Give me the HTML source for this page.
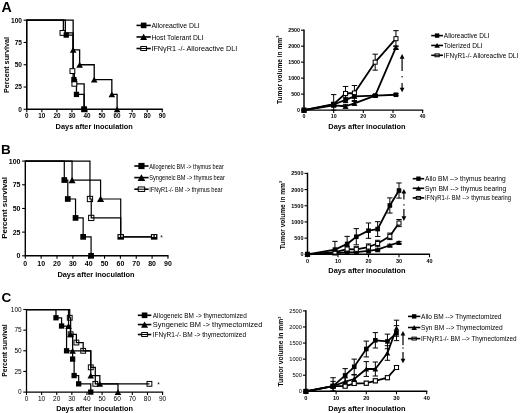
<!DOCTYPE html>
<html><head><meta charset="utf-8"><style>
html,body{margin:0;padding:0;background:#fff;}
body{width:520px;height:413px;overflow:hidden;}
svg{display:block;filter:blur(0.3px);}
text{font-family:"Liberation Sans", sans-serif;fill:#000;}
</style></head><body>
<svg width="520" height="413" viewBox="0 0 520 413">
<rect width="520" height="413" fill="#fff"/>
<text x="1.40" y="11.90" font-size="14.2" text-anchor="start" font-weight="bold" >A</text>
<text x="0.90" y="153.80" font-size="13.5" text-anchor="start" font-weight="bold" >B</text>
<text x="1.50" y="302.20" font-size="13.5" text-anchor="start" font-weight="bold" >C</text>
<path d="M26.80,19.60 L26.80,109.30 L162.85,109.30" fill="none" stroke="#000" stroke-width="1.6"/>
<line x1="23.60" y1="109.30" x2="26.80" y2="109.30" stroke="#000" stroke-width="1.1"/>
<text x="22.00" y="111.68" font-size="6.6" text-anchor="end" font-weight="bold" >0</text>
<line x1="23.60" y1="87.03" x2="26.80" y2="87.03" stroke="#000" stroke-width="1.1"/>
<text x="22.00" y="89.40" font-size="6.6" text-anchor="end" font-weight="bold" >25</text>
<line x1="23.60" y1="64.75" x2="26.80" y2="64.75" stroke="#000" stroke-width="1.1"/>
<text x="22.00" y="67.13" font-size="6.6" text-anchor="end" font-weight="bold" >50</text>
<line x1="23.60" y1="42.47" x2="26.80" y2="42.47" stroke="#000" stroke-width="1.1"/>
<text x="22.00" y="44.85" font-size="6.6" text-anchor="end" font-weight="bold" >75</text>
<line x1="23.60" y1="20.20" x2="26.80" y2="20.20" stroke="#000" stroke-width="1.1"/>
<text x="22.00" y="22.58" font-size="6.6" text-anchor="end" font-weight="bold" >100</text>
<line x1="26.80" y1="109.30" x2="26.80" y2="112.30" stroke="#000" stroke-width="1.1"/>
<text x="26.80" y="118.27" font-size="6.3" text-anchor="middle" font-weight="bold" >0</text>
<line x1="41.85" y1="109.30" x2="41.85" y2="112.30" stroke="#000" stroke-width="1.1"/>
<text x="41.85" y="118.27" font-size="6.3" text-anchor="middle" font-weight="bold" >10</text>
<line x1="56.90" y1="109.30" x2="56.90" y2="112.30" stroke="#000" stroke-width="1.1"/>
<text x="56.90" y="118.27" font-size="6.3" text-anchor="middle" font-weight="bold" >20</text>
<line x1="71.95" y1="109.30" x2="71.95" y2="112.30" stroke="#000" stroke-width="1.1"/>
<text x="71.95" y="118.27" font-size="6.3" text-anchor="middle" font-weight="bold" >30</text>
<line x1="87.00" y1="109.30" x2="87.00" y2="112.30" stroke="#000" stroke-width="1.1"/>
<text x="87.00" y="118.27" font-size="6.3" text-anchor="middle" font-weight="bold" >40</text>
<line x1="102.05" y1="109.30" x2="102.05" y2="112.30" stroke="#000" stroke-width="1.1"/>
<text x="102.05" y="118.27" font-size="6.3" text-anchor="middle" font-weight="bold" >50</text>
<line x1="117.10" y1="109.30" x2="117.10" y2="112.30" stroke="#000" stroke-width="1.1"/>
<text x="117.10" y="118.27" font-size="6.3" text-anchor="middle" font-weight="bold" >60</text>
<line x1="132.15" y1="109.30" x2="132.15" y2="112.30" stroke="#000" stroke-width="1.1"/>
<text x="132.15" y="118.27" font-size="6.3" text-anchor="middle" font-weight="bold" >70</text>
<line x1="147.20" y1="109.30" x2="147.20" y2="112.30" stroke="#000" stroke-width="1.1"/>
<text x="147.20" y="118.27" font-size="6.3" text-anchor="middle" font-weight="bold" >80</text>
<line x1="162.25" y1="109.30" x2="162.25" y2="112.30" stroke="#000" stroke-width="1.1"/>
<text x="162.25" y="118.27" font-size="6.3" text-anchor="middle" font-weight="bold" >90</text>
<text x="55.60" y="128.80" font-size="7.4" text-anchor="start" font-weight="bold" >Days after inoculation</text>
<text x="0" y="0" font-size="7.25" font-weight="bold" text-anchor="middle" transform="translate(8.60,65.00) rotate(-90)">Percent survival</text>
<path d="M26.80,20.20 L63.37,20.20 L63.37,32.94 L73.15,32.94 L73.15,71.08 L74.36,71.08 L74.36,83.82 L84.14,83.82 L84.14,109.30" fill="none" stroke="#000" stroke-width="1.3" stroke-linejoin="miter"/>
<path d="M26.80,20.20 L73.15,20.20 L73.15,49.87 L79.63,49.87 L79.63,64.75 L94.22,64.75 L94.22,79.63 L111.83,79.63 L111.83,94.42 L117.10,94.42 L117.10,109.30" fill="none" stroke="#000" stroke-width="1.3" stroke-linejoin="miter"/>
<path d="M26.80,20.20 L65.33,20.20 L65.33,35.08 L73.15,35.08 L73.15,79.63 L76.47,79.63 L76.47,94.42 L84.14,94.42 L84.14,109.30" fill="none" stroke="#000" stroke-width="1.3" stroke-linejoin="miter"/>
<rect x="60.05" y="30.53" width="4.83" height="4.83" fill="#fff" stroke="#000" stroke-width="1.0"/>
<rect x="69.99" y="68.66" width="4.83" height="4.83" fill="#fff" stroke="#000" stroke-width="1.0"/>
<rect x="71.94" y="81.40" width="4.83" height="4.83" fill="#fff" stroke="#000" stroke-width="1.0"/>
<rect x="81.73" y="106.88" width="4.83" height="4.83" fill="#fff" stroke="#000" stroke-width="1.0"/>
<path d="M69.84,52.79 L73.15,46.96 L76.47,52.79 Z" fill="#000"/>
<path d="M76.31,67.67 L79.63,61.84 L82.94,67.67 Z" fill="#000"/>
<path d="M90.91,82.54 L94.22,76.71 L97.54,82.54 Z" fill="#000"/>
<path d="M108.52,97.34 L111.83,91.51 L115.14,97.34 Z" fill="#000"/>
<path d="M113.79,112.22 L117.10,106.38 L120.41,112.22 Z" fill="#000"/>
<rect x="63.58" y="32.43" width="5.30" height="5.30" fill="#000"/>
<rect x="71.26" y="76.98" width="5.30" height="5.30" fill="#000"/>
<rect x="73.81" y="91.77" width="5.30" height="5.30" fill="#000"/>
<rect x="81.49" y="106.65" width="5.30" height="5.30" fill="#000"/>
<line x1="136.50" y1="25.40" x2="150.80" y2="25.40" stroke="#000" stroke-width="1.6"/>
<rect x="140.85" y="22.60" width="5.60" height="5.60" fill="#000"/>
<text x="151.40" y="28.06" font-size="7.4" text-anchor="start" font-weight="normal" textLength="48.3" lengthAdjust="spacingAndGlyphs">Alloreactive DLI</text>
<line x1="136.50" y1="36.95" x2="150.80" y2="36.95" stroke="#000" stroke-width="1.6"/>
<path d="M140.15,40.03 L143.65,33.87 L147.15,40.03 Z" fill="#000"/>
<text x="151.40" y="39.61" font-size="7.4" text-anchor="start" font-weight="normal" textLength="52.0" lengthAdjust="spacingAndGlyphs">Host Tolerant DLI</text>
<line x1="136.50" y1="48.50" x2="150.80" y2="48.50" stroke="#000" stroke-width="1.6"/>
<rect x="140.79" y="46.54" width="5.72" height="3.93" fill="#fff" stroke="#000" stroke-width="1.0"/><line x1="140.29" y1="48.50" x2="147.01" y2="48.50" stroke="#000" stroke-width="1"/>
<text x="151.40" y="51.16" font-size="7.4" text-anchor="start" font-weight="normal" textLength="85.9" lengthAdjust="spacingAndGlyphs">IFN&#947;R1 -/- Alloreactive DLI</text>
<path d="M25.30,160.50 L25.30,255.80 L168.55,255.80" fill="none" stroke="#000" stroke-width="1.4"/>
<line x1="22.10" y1="255.80" x2="25.30" y2="255.80" stroke="#000" stroke-width="1.1"/>
<text x="20.50" y="258.32" font-size="7.0" text-anchor="end" font-weight="bold" >0</text>
<line x1="22.10" y1="232.12" x2="25.30" y2="232.12" stroke="#000" stroke-width="1.1"/>
<text x="20.50" y="234.65" font-size="7.0" text-anchor="end" font-weight="bold" >25</text>
<line x1="22.10" y1="208.45" x2="25.30" y2="208.45" stroke="#000" stroke-width="1.1"/>
<text x="20.50" y="210.97" font-size="7.0" text-anchor="end" font-weight="bold" >50</text>
<line x1="22.10" y1="184.78" x2="25.30" y2="184.78" stroke="#000" stroke-width="1.1"/>
<text x="20.50" y="187.30" font-size="7.0" text-anchor="end" font-weight="bold" >75</text>
<line x1="22.10" y1="161.10" x2="25.30" y2="161.10" stroke="#000" stroke-width="1.1"/>
<text x="20.50" y="163.62" font-size="7.0" text-anchor="end" font-weight="bold" >100</text>
<line x1="25.30" y1="255.80" x2="25.30" y2="258.80" stroke="#000" stroke-width="1.1"/>
<text x="25.30" y="265.52" font-size="7.0" text-anchor="middle" font-weight="bold" >0</text>
<line x1="41.15" y1="255.80" x2="41.15" y2="258.80" stroke="#000" stroke-width="1.1"/>
<text x="41.15" y="265.52" font-size="7.0" text-anchor="middle" font-weight="bold" >10</text>
<line x1="57.00" y1="255.80" x2="57.00" y2="258.80" stroke="#000" stroke-width="1.1"/>
<text x="57.00" y="265.52" font-size="7.0" text-anchor="middle" font-weight="bold" >20</text>
<line x1="72.85" y1="255.80" x2="72.85" y2="258.80" stroke="#000" stroke-width="1.1"/>
<text x="72.85" y="265.52" font-size="7.0" text-anchor="middle" font-weight="bold" >30</text>
<line x1="88.70" y1="255.80" x2="88.70" y2="258.80" stroke="#000" stroke-width="1.1"/>
<text x="88.70" y="265.52" font-size="7.0" text-anchor="middle" font-weight="bold" >40</text>
<line x1="104.55" y1="255.80" x2="104.55" y2="258.80" stroke="#000" stroke-width="1.1"/>
<text x="104.55" y="265.52" font-size="7.0" text-anchor="middle" font-weight="bold" >50</text>
<line x1="120.40" y1="255.80" x2="120.40" y2="258.80" stroke="#000" stroke-width="1.1"/>
<text x="120.40" y="265.52" font-size="7.0" text-anchor="middle" font-weight="bold" >60</text>
<line x1="136.25" y1="255.80" x2="136.25" y2="258.80" stroke="#000" stroke-width="1.1"/>
<text x="136.25" y="265.52" font-size="7.0" text-anchor="middle" font-weight="bold" >70</text>
<line x1="152.10" y1="255.80" x2="152.10" y2="258.80" stroke="#000" stroke-width="1.1"/>
<text x="152.10" y="265.52" font-size="7.0" text-anchor="middle" font-weight="bold" >80</text>
<line x1="167.95" y1="255.80" x2="167.95" y2="258.80" stroke="#000" stroke-width="1.1"/>
<text x="167.95" y="265.52" font-size="7.0" text-anchor="middle" font-weight="bold" >90</text>
<text x="57.40" y="276.50" font-size="7.4" text-anchor="start" font-weight="bold" >Days after inoculation</text>
<text x="0" y="0" font-size="8.0" font-weight="bold" text-anchor="middle" transform="translate(6.90,207.90) rotate(-90)">Percent survival</text>
<path d="M25.30,161.10 L72.06,161.10 L72.06,180.04 L100.59,180.04 L100.59,198.98 L120.72,198.98 L120.72,236.86 L154.16,236.86 L154.16,236.86" fill="none" stroke="#000" stroke-width="1.2" stroke-linejoin="miter"/>
<path d="M25.30,161.10 L89.97,161.10 L89.97,198.98 L91.24,198.98 L91.24,217.92 L120.72,217.92 L120.72,236.86 L154.16,236.86 L154.16,236.86" fill="none" stroke="#000" stroke-width="1.2" stroke-linejoin="miter"/>
<path d="M25.30,161.10 L64.29,161.10 L64.29,180.04 L67.78,180.04 L67.78,198.98 L75.54,198.98 L75.54,217.92 L83.15,217.92 L83.15,236.86 L91.08,236.86 L91.08,255.80" fill="none" stroke="#000" stroke-width="1.2" stroke-linejoin="miter"/>
<path d="M68.50,183.17 L72.06,176.91 L75.62,183.17 Z" fill="#000"/>
<path d="M97.02,202.12 L100.59,195.85 L104.15,202.12 Z" fill="#000"/>


<rect x="87.33" y="196.35" width="5.27" height="5.27" fill="none" stroke="#000" stroke-width="1.0"/>
<rect x="88.60" y="215.29" width="5.27" height="5.27" fill="none" stroke="#000" stroke-width="1.0"/>
<rect x="117.44" y="234.07" width="6.55" height="5.59" fill="#000"/><rect x="118.64" y="235.07" width="1.3" height="1.9" fill="#fff"/><rect x="121.32" y="235.07" width="1.3" height="1.9" fill="#fff"/>
<rect x="150.88" y="234.07" width="6.55" height="5.59" fill="#000"/><rect x="152.08" y="235.07" width="1.3" height="1.9" fill="#fff"/><rect x="154.76" y="235.07" width="1.3" height="1.9" fill="#fff"/>
<rect x="61.44" y="177.19" width="5.70" height="5.70" fill="#000"/>
<rect x="64.93" y="196.13" width="5.70" height="5.70" fill="#000"/>
<rect x="72.69" y="215.07" width="5.70" height="5.70" fill="#000"/>
<rect x="80.30" y="234.01" width="5.70" height="5.70" fill="#000"/>
<rect x="88.23" y="252.95" width="5.70" height="5.70" fill="#000"/>
<text x="161.50" y="239.50" font-size="6.5" text-anchor="middle" font-weight="normal" >*</text>
<line x1="134.30" y1="166.00" x2="148.60" y2="166.00" stroke="#000" stroke-width="1.6"/>
<rect x="138.35" y="162.90" width="6.20" height="6.20" fill="#000"/>
<text x="149.20" y="168.63" font-size="7.3" text-anchor="start" font-weight="normal" textLength="74.6" lengthAdjust="spacingAndGlyphs">Allogeneic BM -&gt; thymus bear</text>
<line x1="134.30" y1="177.60" x2="148.60" y2="177.60" stroke="#000" stroke-width="1.6"/>
<path d="M137.58,181.01 L141.45,174.19 L145.33,181.01 Z" fill="#000"/>
<text x="149.20" y="180.23" font-size="7.3" text-anchor="start" font-weight="normal" textLength="75.7" lengthAdjust="spacingAndGlyphs">Syngeneic BM -&gt; thymus bear</text>
<line x1="134.30" y1="189.20" x2="148.60" y2="189.20" stroke="#000" stroke-width="1.6"/>
<rect x="138.23" y="186.97" width="6.44" height="4.46" fill="#fff" stroke="#000" stroke-width="1.0"/><line x1="137.73" y1="189.20" x2="145.17" y2="189.20" stroke="#000" stroke-width="1"/>
<text x="149.20" y="191.83" font-size="7.3" text-anchor="start" font-weight="normal" textLength="73.4" lengthAdjust="spacingAndGlyphs">IFN&#947;R1-/- BM -&gt; thymus bear</text>
<path d="M26.50,308.90 L26.50,392.10 L163.18,392.10" fill="none" stroke="#000" stroke-width="1.3"/>
<line x1="23.30" y1="392.10" x2="26.50" y2="392.10" stroke="#000" stroke-width="1.1"/>
<text x="21.70" y="394.44" font-size="6.5" text-anchor="end" font-weight="normal" >0</text>
<line x1="23.30" y1="371.45" x2="26.50" y2="371.45" stroke="#000" stroke-width="1.1"/>
<text x="21.70" y="373.79" font-size="6.5" text-anchor="end" font-weight="normal" >25</text>
<line x1="23.30" y1="350.80" x2="26.50" y2="350.80" stroke="#000" stroke-width="1.1"/>
<text x="21.70" y="353.14" font-size="6.5" text-anchor="end" font-weight="normal" >50</text>
<line x1="23.30" y1="330.15" x2="26.50" y2="330.15" stroke="#000" stroke-width="1.1"/>
<text x="21.70" y="332.49" font-size="6.5" text-anchor="end" font-weight="normal" >75</text>
<line x1="23.30" y1="309.50" x2="26.50" y2="309.50" stroke="#000" stroke-width="1.1"/>
<text x="21.70" y="311.84" font-size="6.5" text-anchor="end" font-weight="normal" >100</text>
<line x1="26.50" y1="392.10" x2="26.50" y2="395.10" stroke="#000" stroke-width="1.1"/>
<text x="26.50" y="400.54" font-size="6.5" text-anchor="middle" font-weight="normal" >0</text>
<line x1="41.62" y1="392.10" x2="41.62" y2="395.10" stroke="#000" stroke-width="1.1"/>
<text x="41.62" y="400.54" font-size="6.5" text-anchor="middle" font-weight="normal" >10</text>
<line x1="56.74" y1="392.10" x2="56.74" y2="395.10" stroke="#000" stroke-width="1.1"/>
<text x="56.74" y="400.54" font-size="6.5" text-anchor="middle" font-weight="normal" >20</text>
<line x1="71.86" y1="392.10" x2="71.86" y2="395.10" stroke="#000" stroke-width="1.1"/>
<text x="71.86" y="400.54" font-size="6.5" text-anchor="middle" font-weight="normal" >30</text>
<line x1="86.98" y1="392.10" x2="86.98" y2="395.10" stroke="#000" stroke-width="1.1"/>
<text x="86.98" y="400.54" font-size="6.5" text-anchor="middle" font-weight="normal" >40</text>
<line x1="102.10" y1="392.10" x2="102.10" y2="395.10" stroke="#000" stroke-width="1.1"/>
<text x="102.10" y="400.54" font-size="6.5" text-anchor="middle" font-weight="normal" >50</text>
<line x1="117.22" y1="392.10" x2="117.22" y2="395.10" stroke="#000" stroke-width="1.1"/>
<text x="117.22" y="400.54" font-size="6.5" text-anchor="middle" font-weight="normal" >60</text>
<line x1="132.34" y1="392.10" x2="132.34" y2="395.10" stroke="#000" stroke-width="1.1"/>
<text x="132.34" y="400.54" font-size="6.5" text-anchor="middle" font-weight="normal" >70</text>
<line x1="147.46" y1="392.10" x2="147.46" y2="395.10" stroke="#000" stroke-width="1.1"/>
<text x="147.46" y="400.54" font-size="6.5" text-anchor="middle" font-weight="normal" >80</text>
<line x1="162.58" y1="392.10" x2="162.58" y2="395.10" stroke="#000" stroke-width="1.1"/>
<text x="162.58" y="400.54" font-size="6.5" text-anchor="middle" font-weight="normal" >90</text>
<text x="56.20" y="410.60" font-size="7.35" text-anchor="start" font-weight="bold" >Days after inoculation</text>
<text x="0" y="0" font-size="6.8" font-weight="bold" text-anchor="middle" transform="translate(7.30,350.60) rotate(-90)">Percent survival</text>
<path d="M26.50,309.50 L69.74,309.50 L69.74,317.76 L70.65,317.76 L70.65,334.28 L76.40,334.28 L76.40,342.54 L83.20,342.54 L83.20,350.80 L90.76,350.80 L90.76,367.32 L95.30,367.32 L95.30,383.84 L149.43,383.84 L149.43,383.84" fill="none" stroke="#000" stroke-width="1.25" stroke-linejoin="miter"/>
<path d="M26.50,309.50 L68.53,309.50 L68.53,326.02 L70.35,326.02 L70.35,334.28 L72.62,334.28 L72.62,350.80 L90.76,350.80 L90.76,375.58 L99.83,375.58 L99.83,383.84 L117.98,383.84 L117.98,392.10" fill="none" stroke="#000" stroke-width="1.25" stroke-linejoin="miter"/>
<path d="M26.50,309.50 L55.98,309.50 L55.98,317.76 L61.58,317.76 L61.58,326.02 L66.57,326.02 L66.57,350.80 L72.62,350.80 L72.62,359.06 L74.13,359.06 L74.13,375.58 L78.66,375.58 L78.66,383.84 L90.76,383.84 L90.76,392.10" fill="none" stroke="#000" stroke-width="1.25" stroke-linejoin="miter"/>
<rect x="67.33" y="315.34" width="4.83" height="4.83" fill="none" stroke="#000" stroke-width="1.0"/>
<rect x="68.24" y="331.86" width="4.83" height="4.83" fill="none" stroke="#000" stroke-width="1.0"/>
<rect x="73.98" y="340.12" width="4.83" height="4.83" fill="none" stroke="#000" stroke-width="1.0"/>
<rect x="80.78" y="348.38" width="4.83" height="4.83" fill="none" stroke="#000" stroke-width="1.0"/>
<rect x="88.34" y="364.90" width="4.83" height="4.83" fill="none" stroke="#000" stroke-width="1.0"/>
<rect x="92.88" y="381.43" width="4.83" height="4.83" fill="none" stroke="#000" stroke-width="1.0"/>
<rect x="147.01" y="381.43" width="4.83" height="4.83" fill="none" stroke="#000" stroke-width="1.0"/>
<path d="M65.22,328.94 L68.53,323.10 L71.85,328.94 Z" fill="#000"/>
<path d="M67.04,337.19 L70.35,331.36 L73.66,337.19 Z" fill="#000"/>
<path d="M69.30,353.72 L72.62,347.88 L75.93,353.72 Z" fill="#000"/>
<path d="M87.45,378.50 L90.76,372.67 L94.07,378.50 Z" fill="#000"/>
<path d="M96.52,386.76 L99.83,380.93 L103.14,386.76 Z" fill="#000"/>
<path d="M114.66,395.02 L117.98,389.19 L121.29,395.02 Z" fill="#000"/>
<rect x="53.33" y="315.11" width="5.30" height="5.30" fill="#000"/>
<rect x="58.93" y="323.37" width="5.30" height="5.30" fill="#000"/>
<rect x="63.92" y="348.15" width="5.30" height="5.30" fill="#000"/>
<rect x="69.97" y="356.41" width="5.30" height="5.30" fill="#000"/>
<rect x="71.48" y="372.93" width="5.30" height="5.30" fill="#000"/>
<rect x="76.01" y="381.19" width="5.30" height="5.30" fill="#000"/>
<rect x="88.11" y="389.45" width="5.30" height="5.30" fill="#000"/>
<text x="158.50" y="387.00" font-size="6.5" text-anchor="middle" font-weight="normal" >*</text>
<line x1="137.80" y1="315.30" x2="151.30" y2="315.30" stroke="#000" stroke-width="1.6"/>
<rect x="141.75" y="312.50" width="5.60" height="5.60" fill="#000"/>
<text x="152.80" y="317.71" font-size="6.7" text-anchor="start" font-weight="normal" textLength="94.0" lengthAdjust="spacingAndGlyphs">Allogeneic BM -&gt; thymectomized</text>
<line x1="137.80" y1="324.55" x2="151.30" y2="324.55" stroke="#000" stroke-width="1.6"/>
<path d="M141.05,327.63 L144.55,321.47 L148.05,327.63 Z" fill="#000"/>
<text x="152.80" y="326.96" font-size="6.7" text-anchor="start" font-weight="normal" textLength="109.6" lengthAdjust="spacingAndGlyphs">Syngeneic BM -&gt; thymectomized</text>
<line x1="137.80" y1="334.50" x2="151.30" y2="334.50" stroke="#000" stroke-width="1.6"/>
<rect x="141.69" y="332.54" width="5.72" height="3.93" fill="#fff" stroke="#000" stroke-width="1.0"/><line x1="141.19" y1="334.50" x2="147.91" y2="334.50" stroke="#000" stroke-width="1"/>
<text x="152.80" y="336.91" font-size="6.7" text-anchor="start" font-weight="normal" textLength="93.3" lengthAdjust="spacingAndGlyphs">IFN&#947;R1-/- BM -&gt; thymectomized</text>
<path d="M304.00,29.60 L304.00,110.10 L423.24,110.10" fill="none" stroke="#000" stroke-width="1.45"/>
<line x1="301.00" y1="110.10" x2="304.00" y2="110.10" stroke="#000" stroke-width="1.1"/>
<text x="300.00" y="112.01" font-size="5.3" text-anchor="end" font-weight="bold" >0</text>
<line x1="301.00" y1="94.12" x2="304.00" y2="94.12" stroke="#000" stroke-width="1.1"/>
<text x="300.00" y="96.03" font-size="5.3" text-anchor="end" font-weight="bold" >500</text>
<line x1="301.00" y1="78.14" x2="304.00" y2="78.14" stroke="#000" stroke-width="1.1"/>
<text x="300.00" y="80.05" font-size="5.3" text-anchor="end" font-weight="bold" >1000</text>
<line x1="301.00" y1="62.16" x2="304.00" y2="62.16" stroke="#000" stroke-width="1.1"/>
<text x="300.00" y="64.07" font-size="5.3" text-anchor="end" font-weight="bold" >1500</text>
<line x1="301.00" y1="46.18" x2="304.00" y2="46.18" stroke="#000" stroke-width="1.1"/>
<text x="300.00" y="48.09" font-size="5.3" text-anchor="end" font-weight="bold" >2000</text>
<line x1="301.00" y1="30.20" x2="304.00" y2="30.20" stroke="#000" stroke-width="1.1"/>
<text x="300.00" y="32.11" font-size="5.3" text-anchor="end" font-weight="bold" >2500</text>
<line x1="304.00" y1="110.10" x2="304.00" y2="113.10" stroke="#000" stroke-width="1.1"/>
<text x="304.00" y="118.21" font-size="5.3" text-anchor="middle" font-weight="bold" >0</text>
<line x1="333.66" y1="110.10" x2="333.66" y2="113.10" stroke="#000" stroke-width="1.1"/>
<text x="333.66" y="118.21" font-size="5.3" text-anchor="middle" font-weight="bold" >10</text>
<line x1="363.32" y1="110.10" x2="363.32" y2="113.10" stroke="#000" stroke-width="1.1"/>
<text x="363.32" y="118.21" font-size="5.3" text-anchor="middle" font-weight="bold" >20</text>
<line x1="392.98" y1="110.10" x2="392.98" y2="113.10" stroke="#000" stroke-width="1.1"/>
<text x="392.98" y="118.21" font-size="5.3" text-anchor="middle" font-weight="bold" >30</text>
<line x1="422.64" y1="110.10" x2="422.64" y2="113.10" stroke="#000" stroke-width="1.1"/>
<text x="422.64" y="118.21" font-size="5.3" text-anchor="middle" font-weight="bold" >40</text>
<text x="328.30" y="129.00" font-size="7.4" text-anchor="start" font-weight="bold" >Days after inoculation</text>
<text x="0" y="0" font-size="6.6" font-weight="bold" text-anchor="middle" transform="translate(282.00,69.80) rotate(-90)">Tumor volume in mm<tspan font-size="3.96" dy="-2.64">3</tspan></text>
<path d="M333.66,94.60 L333.66,110.10 M330.96,94.60 L336.36,94.60 M330.96,110.10 L336.36,110.10" fill="none" stroke="#000" stroke-width="1.0"/>
<path d="M345.52,86.45 L345.52,100.51 M342.82,86.45 L348.22,86.45 M342.82,100.51 L348.22,100.51" fill="none" stroke="#000" stroke-width="1.0"/>
<path d="M354.42,85.49 L354.42,100.51 M351.72,85.49 L357.12,85.49 M351.72,100.51 L357.12,100.51" fill="none" stroke="#000" stroke-width="1.0"/>
<path d="M375.18,54.17 L375.18,70.15 M372.48,54.17 L377.88,54.17 M372.48,70.15 L377.88,70.15" fill="none" stroke="#000" stroke-width="1.0"/>
<path d="M395.95,30.68 L395.95,46.66 M393.25,30.68 L398.65,30.68 M393.25,46.66 L398.65,46.66" fill="none" stroke="#000" stroke-width="1.0"/>
<path d="M333.66,104.03 L333.66,106.58 M330.96,104.03 L336.36,104.03 M330.96,106.58 L336.36,106.58" fill="none" stroke="#000" stroke-width="1.0"/>
<path d="M345.52,104.35 L345.52,108.18 M342.82,104.35 L348.22,104.35 M342.82,108.18 L348.22,108.18" fill="none" stroke="#000" stroke-width="1.0"/>
<path d="M354.42,101.41 L354.42,105.24 M351.72,101.41 L357.12,101.41 M351.72,105.24 L357.12,105.24" fill="none" stroke="#000" stroke-width="1.0"/>
<path d="M375.18,94.60 L375.18,96.52 M372.48,94.60 L377.88,94.60 M372.48,96.52 L377.88,96.52" fill="none" stroke="#000" stroke-width="1.0"/>
<path d="M395.95,45.86 L395.95,49.06 M393.25,45.86 L398.65,45.86 M393.25,49.06 L398.65,49.06" fill="none" stroke="#000" stroke-width="1.0"/>
<path d="M333.66,102.59 L333.66,106.42 M330.96,102.59 L336.36,102.59 M330.96,106.42 L336.36,106.42" fill="none" stroke="#000" stroke-width="1.0"/>
<path d="M345.52,97.32 L345.52,102.43 M342.82,97.32 L348.22,97.32 M342.82,102.43 L348.22,102.43" fill="none" stroke="#000" stroke-width="1.0"/>
<path d="M354.42,94.44 L354.42,98.27 M351.72,94.44 L357.12,94.44 M351.72,98.27 L357.12,98.27" fill="none" stroke="#000" stroke-width="1.0"/>
<path d="M375.18,94.60 L375.18,96.52 M372.48,94.60 L377.88,94.60 M372.48,96.52 L377.88,96.52" fill="none" stroke="#000" stroke-width="1.0"/>
<path d="M395.95,93.80 L395.95,95.72 M393.25,93.80 L398.65,93.80 M393.25,95.72 L398.65,95.72" fill="none" stroke="#000" stroke-width="1.0"/>
<path d="M304.00,110.10 L333.66,104.19 L345.52,93.48 L354.42,93.00 L375.18,62.16 L395.95,38.67" fill="none" stroke="#000" stroke-width="1.8" stroke-linejoin="round"/>
<path d="M304.00,110.10 L333.66,105.31 L345.52,106.26 L354.42,103.32 L375.18,95.56 L395.95,47.46" fill="none" stroke="#000" stroke-width="1.8" stroke-linejoin="round"/>
<path d="M304.00,110.10 L333.66,104.51 L345.52,99.87 L354.42,96.36 L375.18,95.56 L395.95,94.76" fill="none" stroke="#000" stroke-width="1.8" stroke-linejoin="round"/>
<rect x="301.97" y="108.07" width="4.06" height="4.06" fill="#fff" stroke="#000" stroke-width="1.0"/>
<rect x="331.63" y="102.16" width="4.06" height="4.06" fill="#fff" stroke="#000" stroke-width="1.0"/>
<rect x="343.49" y="91.45" width="4.06" height="4.06" fill="#fff" stroke="#000" stroke-width="1.0"/>
<rect x="352.39" y="90.97" width="4.06" height="4.06" fill="#fff" stroke="#000" stroke-width="1.0"/>
<rect x="373.15" y="60.13" width="4.06" height="4.06" fill="#fff" stroke="#000" stroke-width="1.0"/>
<rect x="393.92" y="36.64" width="4.06" height="4.06" fill="#fff" stroke="#000" stroke-width="1.0"/>
<path d="M301.12,112.63 L304.00,107.57 L306.88,112.63 Z" fill="#000"/>
<path d="M330.79,107.84 L333.66,102.78 L336.54,107.84 Z" fill="#000"/>
<path d="M342.65,108.79 L345.52,103.73 L348.40,108.79 Z" fill="#000"/>
<path d="M351.55,105.85 L354.42,100.79 L357.30,105.85 Z" fill="#000"/>
<path d="M372.31,98.09 L375.18,93.03 L378.06,98.09 Z" fill="#000"/>
<path d="M393.07,49.99 L395.95,44.93 L398.82,49.99 Z" fill="#000"/>
<rect x="301.70" y="107.80" width="4.60" height="4.60" fill="#000"/>
<rect x="331.36" y="102.21" width="4.60" height="4.60" fill="#000"/>
<rect x="343.22" y="97.57" width="4.60" height="4.60" fill="#000"/>
<rect x="352.12" y="94.06" width="4.60" height="4.60" fill="#000"/>
<rect x="372.88" y="93.26" width="4.60" height="4.60" fill="#000"/>
<rect x="393.65" y="92.46" width="4.60" height="4.60" fill="#000"/>
<path d="M402.10,58.20 L402.10,71.00 M402.10,83.00 L402.10,88.20" stroke="#000" stroke-width="1.2" fill="none"/>
<path d="M399.70,58.70 L402.10,54.10 L404.50,58.70 Z" fill="#000"/>
<path d="M399.70,87.70 L402.10,92.30 L404.50,87.70 Z" fill="#000"/>
<rect x="401.40" y="76.00" width="1.4" height="1.4" fill="#333"/>
<line x1="431.20" y1="35.60" x2="443.00" y2="35.60" stroke="#000" stroke-width="1.6"/>
<rect x="434.90" y="33.40" width="4.40" height="4.40" fill="#000"/>
<text x="443.80" y="38.05" font-size="6.8" text-anchor="start" font-weight="normal" textLength="45.6" lengthAdjust="spacingAndGlyphs">Alloreactive DLI</text>
<line x1="431.20" y1="45.45" x2="443.00" y2="45.45" stroke="#000" stroke-width="1.6"/>
<path d="M434.35,47.87 L437.10,43.03 L439.85,47.87 Z" fill="#000"/>
<text x="443.80" y="47.90" font-size="6.8" text-anchor="start" font-weight="normal" textLength="38.8" lengthAdjust="spacingAndGlyphs">Tolerized DLI</text>
<line x1="431.20" y1="55.30" x2="443.00" y2="55.30" stroke="#000" stroke-width="1.6"/>
<rect x="434.96" y="53.86" width="4.28" height="2.87" fill="#fff" stroke="#000" stroke-width="1.0"/><line x1="434.46" y1="55.30" x2="439.74" y2="55.30" stroke="#000" stroke-width="1"/>
<text x="443.80" y="57.75" font-size="6.8" text-anchor="start" font-weight="normal" textLength="74.4" lengthAdjust="spacingAndGlyphs">IFN&#947;R1-/- Alloreactive DLI</text>
<path d="M307.50,172.80 L307.50,254.30 L430.10,254.30" fill="none" stroke="#000" stroke-width="1.45"/>
<line x1="304.50" y1="254.30" x2="307.50" y2="254.30" stroke="#000" stroke-width="1.1"/>
<text x="303.50" y="256.28" font-size="5.5" text-anchor="end" font-weight="bold" >0</text>
<line x1="304.50" y1="238.12" x2="307.50" y2="238.12" stroke="#000" stroke-width="1.1"/>
<text x="303.50" y="240.10" font-size="5.5" text-anchor="end" font-weight="bold" >500</text>
<line x1="304.50" y1="221.94" x2="307.50" y2="221.94" stroke="#000" stroke-width="1.1"/>
<text x="303.50" y="223.92" font-size="5.5" text-anchor="end" font-weight="bold" >1000</text>
<line x1="304.50" y1="205.76" x2="307.50" y2="205.76" stroke="#000" stroke-width="1.1"/>
<text x="303.50" y="207.74" font-size="5.5" text-anchor="end" font-weight="bold" >1500</text>
<line x1="304.50" y1="189.58" x2="307.50" y2="189.58" stroke="#000" stroke-width="1.1"/>
<text x="303.50" y="191.56" font-size="5.5" text-anchor="end" font-weight="bold" >2000</text>
<line x1="304.50" y1="173.40" x2="307.50" y2="173.40" stroke="#000" stroke-width="1.1"/>
<text x="303.50" y="175.38" font-size="5.5" text-anchor="end" font-weight="bold" >2500</text>
<line x1="307.50" y1="254.30" x2="307.50" y2="257.30" stroke="#000" stroke-width="1.1"/>
<text x="307.50" y="262.78" font-size="5.5" text-anchor="middle" font-weight="bold" >0</text>
<line x1="338.00" y1="254.30" x2="338.00" y2="257.30" stroke="#000" stroke-width="1.1"/>
<text x="338.00" y="262.78" font-size="5.5" text-anchor="middle" font-weight="bold" >10</text>
<line x1="368.50" y1="254.30" x2="368.50" y2="257.30" stroke="#000" stroke-width="1.1"/>
<text x="368.50" y="262.78" font-size="5.5" text-anchor="middle" font-weight="bold" >20</text>
<line x1="399.00" y1="254.30" x2="399.00" y2="257.30" stroke="#000" stroke-width="1.1"/>
<text x="399.00" y="262.78" font-size="5.5" text-anchor="middle" font-weight="bold" >30</text>
<line x1="429.50" y1="254.30" x2="429.50" y2="257.30" stroke="#000" stroke-width="1.1"/>
<text x="429.50" y="262.78" font-size="5.5" text-anchor="middle" font-weight="bold" >40</text>
<text x="328.30" y="273.40" font-size="7.4" text-anchor="start" font-weight="bold" >Days after inoculation</text>
<text x="0" y="0" font-size="6.6" font-weight="bold" text-anchor="middle" transform="translate(284.70,215.00) rotate(-90)">Tumor volume in mm<tspan font-size="3.96" dy="-2.64">3</tspan></text>
<path d="M334.95,252.36 L334.95,253.65 M332.25,252.36 L337.65,252.36 M332.25,253.65 L337.65,253.65" fill="none" stroke="#000" stroke-width="1.0"/>
<path d="M347.15,251.78 L347.15,253.07 M344.45,251.78 L349.85,251.78 M344.45,253.07 L349.85,253.07" fill="none" stroke="#000" stroke-width="1.0"/>
<path d="M356.30,251.39 L356.30,252.68 M353.60,251.39 L359.00,251.39 M353.60,252.68 L359.00,252.68" fill="none" stroke="#000" stroke-width="1.0"/>
<path d="M368.50,250.09 L368.50,251.71 M365.80,250.09 L371.20,250.09 M365.80,251.71 L371.20,251.71" fill="none" stroke="#000" stroke-width="1.0"/>
<path d="M377.65,248.80 L377.65,250.42 M374.95,248.80 L380.35,248.80 M374.95,250.42 L380.35,250.42" fill="none" stroke="#000" stroke-width="1.0"/>
<path d="M389.85,244.27 L389.85,246.21 M387.15,244.27 L392.55,244.27 M387.15,246.21 L392.55,246.21" fill="none" stroke="#000" stroke-width="1.0"/>
<path d="M399.00,241.45 L399.00,243.39 M396.30,241.45 L401.70,241.45 M396.30,243.39 L401.70,243.39" fill="none" stroke="#000" stroke-width="1.0"/>
<path d="M334.95,250.09 L334.95,253.98 M332.25,250.09 L337.65,250.09 M332.25,253.98 L337.65,253.98" fill="none" stroke="#000" stroke-width="1.0"/>
<path d="M347.15,246.44 L347.15,251.61 M344.45,246.44 L349.85,246.44 M344.45,251.61 L349.85,251.61" fill="none" stroke="#000" stroke-width="1.0"/>
<path d="M356.30,246.73 L356.30,251.91 M353.60,246.73 L359.00,246.73 M353.60,251.91 L359.00,251.91" fill="none" stroke="#000" stroke-width="1.0"/>
<path d="M368.50,243.94 L368.50,250.09 M365.80,243.94 L371.20,243.94 M365.80,250.09 L371.20,250.09" fill="none" stroke="#000" stroke-width="1.0"/>
<path d="M377.65,240.29 L377.65,246.76 M374.95,240.29 L380.35,240.29 M374.95,246.76 L380.35,246.76" fill="none" stroke="#000" stroke-width="1.0"/>
<path d="M389.85,233.10 L389.85,239.58 M387.15,233.10 L392.55,233.10 M387.15,239.58 L392.55,239.58" fill="none" stroke="#000" stroke-width="1.0"/>
<path d="M399.00,219.51 L399.00,226.63 M396.30,219.51 L401.70,219.51 M396.30,226.63 L401.70,226.63" fill="none" stroke="#000" stroke-width="1.0"/>
<path d="M334.95,241.36 L334.95,254.30 M332.25,241.36 L337.65,241.36 M332.25,254.30 L337.65,254.30" fill="none" stroke="#000" stroke-width="1.0"/>
<path d="M347.15,236.37 L347.15,251.52 M344.45,236.37 L349.85,236.37 M344.45,251.52 L349.85,251.52" fill="none" stroke="#000" stroke-width="1.0"/>
<path d="M356.30,228.64 L356.30,244.82 M353.60,228.64 L359.00,228.64 M353.60,244.82 L359.00,244.82" fill="none" stroke="#000" stroke-width="1.0"/>
<path d="M368.50,222.98 L368.50,238.31 M365.80,222.98 L371.20,222.98 M365.80,238.31 L371.20,238.31" fill="none" stroke="#000" stroke-width="1.0"/>
<path d="M377.65,221.68 L377.65,236.44 M374.95,221.68 L380.35,221.68 M374.95,236.44 L380.35,236.44" fill="none" stroke="#000" stroke-width="1.0"/>
<path d="M389.85,197.90 L389.85,213.04 M387.15,197.90 L392.55,197.90 M387.15,213.04 L392.55,213.04" fill="none" stroke="#000" stroke-width="1.0"/>
<path d="M399.00,182.98 L399.00,198.12 M396.30,182.98 L401.70,182.98 M396.30,198.12 L401.70,198.12" fill="none" stroke="#000" stroke-width="1.0"/>
<path d="M307.50,254.30 L334.95,253.01 L347.15,252.42 L356.30,252.03 L368.50,250.90 L377.65,249.61 L389.85,245.24 L399.00,242.42" fill="none" stroke="#000" stroke-width="1.8" stroke-linejoin="round"/>
<path d="M307.50,254.30 L334.95,252.03 L347.15,249.03 L356.30,249.32 L368.50,247.02 L377.65,243.52 L389.85,236.34 L399.00,223.07" fill="none" stroke="#000" stroke-width="1.8" stroke-linejoin="round"/>
<path d="M307.50,254.30 L334.95,249.61 L347.15,243.94 L356.30,236.73 L368.50,230.64 L377.65,229.06 L389.85,205.47 L399.00,190.55" fill="none" stroke="#000" stroke-width="1.8" stroke-linejoin="round"/>
<path d="M304.62,256.83 L307.50,251.77 L310.38,256.83 Z" fill="#000"/>
<path d="M332.07,255.54 L334.95,250.48 L337.82,255.54 Z" fill="#000"/>
<path d="M344.27,254.95 L347.15,249.89 L350.02,254.95 Z" fill="#000"/>
<path d="M353.43,254.56 L356.30,249.50 L359.18,254.56 Z" fill="#000"/>
<path d="M365.62,253.43 L368.50,248.37 L371.38,253.43 Z" fill="#000"/>
<path d="M374.77,252.14 L377.65,247.08 L380.52,252.14 Z" fill="#000"/>
<path d="M386.98,247.77 L389.85,242.71 L392.73,247.77 Z" fill="#000"/>
<path d="M396.12,244.95 L399.00,239.89 L401.88,244.95 Z" fill="#000"/>
<rect x="305.47" y="252.27" width="4.06" height="4.06" fill="#fff" stroke="#000" stroke-width="1.0"/>
<rect x="332.92" y="250.00" width="4.06" height="4.06" fill="#fff" stroke="#000" stroke-width="1.0"/>
<rect x="345.12" y="247.00" width="4.06" height="4.06" fill="#fff" stroke="#000" stroke-width="1.0"/>
<rect x="354.27" y="247.29" width="4.06" height="4.06" fill="#fff" stroke="#000" stroke-width="1.0"/>
<rect x="366.47" y="244.99" width="4.06" height="4.06" fill="#fff" stroke="#000" stroke-width="1.0"/>
<rect x="375.62" y="241.49" width="4.06" height="4.06" fill="#fff" stroke="#000" stroke-width="1.0"/>
<rect x="387.82" y="234.31" width="4.06" height="4.06" fill="#fff" stroke="#000" stroke-width="1.0"/>
<rect x="396.97" y="221.04" width="4.06" height="4.06" fill="#fff" stroke="#000" stroke-width="1.0"/>
<rect x="305.20" y="252.00" width="4.60" height="4.60" fill="#000"/>
<rect x="332.65" y="247.31" width="4.60" height="4.60" fill="#000"/>
<rect x="344.85" y="241.64" width="4.60" height="4.60" fill="#000"/>
<rect x="354.00" y="234.43" width="4.60" height="4.60" fill="#000"/>
<rect x="366.20" y="228.34" width="4.60" height="4.60" fill="#000"/>
<rect x="375.35" y="226.76" width="4.60" height="4.60" fill="#000"/>
<rect x="387.55" y="203.17" width="4.60" height="4.60" fill="#000"/>
<rect x="396.70" y="188.25" width="4.60" height="4.60" fill="#000"/>
<path d="M403.90,193.10 L403.90,199.60 M403.90,208.90 L403.90,216.80" stroke="#000" stroke-width="1.2" fill="none"/>
<path d="M401.50,193.60 L403.90,189.00 L406.30,193.60 Z" fill="#000"/>
<path d="M401.50,216.30 L403.90,220.90 L406.30,216.30 Z" fill="#000"/>
<rect x="403.20" y="204.20" width="1.4" height="1.4" fill="#333"/>
<line x1="412.70" y1="178.70" x2="424.20" y2="178.70" stroke="#000" stroke-width="1.6"/>
<rect x="416.25" y="176.50" width="4.40" height="4.40" fill="#000"/>
<text x="425.00" y="181.04" font-size="6.5" text-anchor="start" font-weight="normal" textLength="80.8" lengthAdjust="spacingAndGlyphs">Allo BM --&gt; thymus bearing</text>
<line x1="412.70" y1="188.30" x2="424.20" y2="188.30" stroke="#000" stroke-width="1.6"/>
<path d="M415.70,190.72 L418.45,185.88 L421.20,190.72 Z" fill="#000"/>
<text x="425.00" y="190.64" font-size="6.5" text-anchor="start" font-weight="normal" textLength="81.3" lengthAdjust="spacingAndGlyphs">Syn BM --&gt; thymus bearing</text>
<line x1="412.70" y1="197.90" x2="424.20" y2="197.90" stroke="#000" stroke-width="1.6"/>
<rect x="416.31" y="196.46" width="4.28" height="2.87" fill="#fff" stroke="#000" stroke-width="1.0"/><line x1="415.81" y1="197.90" x2="421.09" y2="197.90" stroke="#000" stroke-width="1"/>
<text x="425.00" y="200.20" font-size="6.4" text-anchor="start" font-weight="normal" textLength="86.0" lengthAdjust="spacingAndGlyphs">IFN&#947;R1-/- BM --&gt; thymus bearing</text>
<path d="M305.90,310.30 L305.90,391.30 L427.30,391.30" fill="none" stroke="#000" stroke-width="1.45"/>
<line x1="302.90" y1="391.30" x2="305.90" y2="391.30" stroke="#000" stroke-width="1.1"/>
<text x="301.90" y="393.35" font-size="5.7" text-anchor="end" font-weight="normal" >0</text>
<line x1="302.90" y1="375.22" x2="305.90" y2="375.22" stroke="#000" stroke-width="1.1"/>
<text x="301.90" y="377.27" font-size="5.7" text-anchor="end" font-weight="normal" >500</text>
<line x1="302.90" y1="359.14" x2="305.90" y2="359.14" stroke="#000" stroke-width="1.1"/>
<text x="301.90" y="361.19" font-size="5.7" text-anchor="end" font-weight="normal" >1000</text>
<line x1="302.90" y1="343.06" x2="305.90" y2="343.06" stroke="#000" stroke-width="1.1"/>
<text x="301.90" y="345.11" font-size="5.7" text-anchor="end" font-weight="normal" >1500</text>
<line x1="302.90" y1="326.98" x2="305.90" y2="326.98" stroke="#000" stroke-width="1.1"/>
<text x="301.90" y="329.03" font-size="5.7" text-anchor="end" font-weight="normal" >2000</text>
<line x1="302.90" y1="310.90" x2="305.90" y2="310.90" stroke="#000" stroke-width="1.1"/>
<text x="301.90" y="312.95" font-size="5.7" text-anchor="end" font-weight="normal" >2500</text>
<line x1="305.90" y1="391.30" x2="305.90" y2="394.30" stroke="#000" stroke-width="1.1"/>
<text x="305.90" y="399.75" font-size="5.7" text-anchor="middle" font-weight="bold" >0</text>
<line x1="336.10" y1="391.30" x2="336.10" y2="394.30" stroke="#000" stroke-width="1.1"/>
<text x="336.10" y="399.75" font-size="5.7" text-anchor="middle" font-weight="bold" >10</text>
<line x1="366.30" y1="391.30" x2="366.30" y2="394.30" stroke="#000" stroke-width="1.1"/>
<text x="366.30" y="399.75" font-size="5.7" text-anchor="middle" font-weight="bold" >20</text>
<line x1="396.50" y1="391.30" x2="396.50" y2="394.30" stroke="#000" stroke-width="1.1"/>
<text x="396.50" y="399.75" font-size="5.7" text-anchor="middle" font-weight="bold" >30</text>
<line x1="426.70" y1="391.30" x2="426.70" y2="394.30" stroke="#000" stroke-width="1.1"/>
<text x="426.70" y="399.75" font-size="5.7" text-anchor="middle" font-weight="bold" >40</text>
<text x="328.30" y="411.10" font-size="7.4" text-anchor="start" font-weight="bold" >Days after inoculation</text>
<text x="0" y="0" font-size="6.75" font-weight="bold" text-anchor="middle" transform="translate(283.40,351.60) rotate(-90)">Tumor volume in mm<tspan font-size="4.05" dy="-2.70">3</tspan></text>
<path d="M333.08,384.90 L333.08,387.47 M330.38,384.90 L335.78,384.90 M330.38,387.47 L335.78,387.47" fill="none" stroke="#000" stroke-width="1.0"/>
<path d="M345.16,384.58 L345.16,387.79 M342.46,384.58 L347.86,384.58 M342.46,387.79 L347.86,387.79" fill="none" stroke="#000" stroke-width="1.0"/>
<path d="M354.22,381.59 L354.22,385.45 M351.52,381.59 L356.92,381.59 M351.52,385.45 L356.92,385.45" fill="none" stroke="#000" stroke-width="1.0"/>
<path d="M366.30,381.27 L366.30,385.13 M363.60,381.27 L369.00,381.27 M363.60,385.13 L369.00,385.13" fill="none" stroke="#000" stroke-width="1.0"/>
<path d="M375.36,378.89 L375.36,382.75 M372.66,378.89 L378.06,378.89 M372.66,382.75 L378.06,382.75" fill="none" stroke="#000" stroke-width="1.0"/>
<path d="M387.44,375.77 L387.44,379.63 M384.74,375.77 L390.14,375.77 M384.74,379.63 L390.14,379.63" fill="none" stroke="#000" stroke-width="1.0"/>
<path d="M396.50,365.57 L396.50,369.43 M393.80,365.57 L399.20,365.57 M393.80,369.43 L399.20,369.43" fill="none" stroke="#000" stroke-width="1.0"/>
<path d="M333.08,381.36 L333.08,391.01 M330.38,381.36 L335.78,381.36 M330.38,391.01 L335.78,391.01" fill="none" stroke="#000" stroke-width="1.0"/>
<path d="M345.16,377.86 L345.16,385.58 M342.46,377.86 L347.86,377.86 M342.46,385.58 L347.86,385.58" fill="none" stroke="#000" stroke-width="1.0"/>
<path d="M354.22,375.03 L354.22,383.00 M351.52,375.03 L356.92,375.03 M351.52,383.00 L356.92,383.00" fill="none" stroke="#000" stroke-width="1.0"/>
<path d="M366.30,361.62 L366.30,376.41 M363.60,361.62 L369.00,361.62 M363.60,376.41 L369.00,376.41" fill="none" stroke="#000" stroke-width="1.0"/>
<path d="M375.36,362.00 L375.36,376.02 M372.66,362.00 L378.06,362.00 M372.66,376.02 L378.06,376.02" fill="none" stroke="#000" stroke-width="1.0"/>
<path d="M387.44,345.70 L387.44,360.30 M384.74,345.70 L390.14,345.70 M384.74,360.30 L390.14,360.30" fill="none" stroke="#000" stroke-width="1.0"/>
<path d="M396.50,320.19 L396.50,336.21 M393.80,320.19 L399.20,320.19 M393.80,336.21 L399.20,336.21" fill="none" stroke="#000" stroke-width="1.0"/>
<path d="M333.08,377.70 L333.08,391.30 M330.38,377.70 L335.78,377.70 M330.38,391.30 L335.78,391.30" fill="none" stroke="#000" stroke-width="1.0"/>
<path d="M345.16,368.63 L345.16,382.20 M342.46,368.63 L347.86,368.63 M342.46,382.20 L347.86,382.20" fill="none" stroke="#000" stroke-width="1.0"/>
<path d="M354.22,359.11 L354.22,374.48 M351.52,359.11 L356.92,359.11 M351.52,374.48 L356.92,374.48" fill="none" stroke="#000" stroke-width="1.0"/>
<path d="M366.30,341.10 L366.30,356.92 M363.60,341.10 L369.00,341.10 M363.60,356.92 L369.00,356.92" fill="none" stroke="#000" stroke-width="1.0"/>
<path d="M375.36,332.61 L375.36,347.98 M372.66,332.61 L378.06,332.61 M372.66,347.98 L378.06,347.98" fill="none" stroke="#000" stroke-width="1.0"/>
<path d="M387.44,334.12 L387.44,348.72 M384.74,334.12 L390.14,334.12 M384.74,348.72 L390.14,348.72" fill="none" stroke="#000" stroke-width="1.0"/>
<path d="M396.50,325.63 L396.50,340.62 M393.80,325.63 L399.20,325.63 M393.80,340.62 L399.20,340.62" fill="none" stroke="#000" stroke-width="1.0"/>
<path d="M305.90,391.30 L333.08,386.19 L345.16,386.19 L354.22,383.52 L366.30,383.20 L375.36,380.82 L387.44,377.70 L396.50,367.50" fill="none" stroke="#000" stroke-width="1.8" stroke-linejoin="round"/>
<path d="M305.90,391.30 L333.08,386.19 L345.16,381.72 L354.22,379.01 L366.30,369.01 L375.36,369.01 L387.44,353.00 L396.50,328.20" fill="none" stroke="#000" stroke-width="1.8" stroke-linejoin="round"/>
<path d="M305.90,391.30 L333.08,386.19 L345.16,375.41 L354.22,366.79 L366.30,349.01 L375.36,340.29 L387.44,341.42 L396.50,333.12" fill="none" stroke="#000" stroke-width="1.8" stroke-linejoin="round"/>
<rect x="303.87" y="389.27" width="4.06" height="4.06" fill="#fff" stroke="#000" stroke-width="1.0"/>
<rect x="331.05" y="384.16" width="4.06" height="4.06" fill="#fff" stroke="#000" stroke-width="1.0"/>
<rect x="343.13" y="384.16" width="4.06" height="4.06" fill="#fff" stroke="#000" stroke-width="1.0"/>
<rect x="352.19" y="381.49" width="4.06" height="4.06" fill="#fff" stroke="#000" stroke-width="1.0"/>
<rect x="364.27" y="381.17" width="4.06" height="4.06" fill="#fff" stroke="#000" stroke-width="1.0"/>
<rect x="373.33" y="378.79" width="4.06" height="4.06" fill="#fff" stroke="#000" stroke-width="1.0"/>
<rect x="385.41" y="375.67" width="4.06" height="4.06" fill="#fff" stroke="#000" stroke-width="1.0"/>
<rect x="394.47" y="365.47" width="4.06" height="4.06" fill="#fff" stroke="#000" stroke-width="1.0"/>
<path d="M303.02,393.83 L305.90,388.77 L308.77,393.83 Z" fill="#000"/>
<path d="M330.20,388.72 L333.08,383.66 L335.95,388.72 Z" fill="#000"/>
<path d="M342.28,384.25 L345.16,379.19 L348.03,384.25 Z" fill="#000"/>
<path d="M351.34,381.54 L354.22,376.48 L357.09,381.54 Z" fill="#000"/>
<path d="M363.42,371.54 L366.30,366.48 L369.17,371.54 Z" fill="#000"/>
<path d="M372.48,371.54 L375.36,366.48 L378.23,371.54 Z" fill="#000"/>
<path d="M384.56,355.53 L387.44,350.47 L390.31,355.53 Z" fill="#000"/>
<path d="M393.62,330.73 L396.50,325.67 L399.38,330.73 Z" fill="#000"/>
<rect x="303.60" y="389.00" width="4.60" height="4.60" fill="#000"/>
<rect x="330.78" y="383.89" width="4.60" height="4.60" fill="#000"/>
<rect x="342.86" y="373.11" width="4.60" height="4.60" fill="#000"/>
<rect x="351.92" y="364.49" width="4.60" height="4.60" fill="#000"/>
<rect x="364.00" y="346.71" width="4.60" height="4.60" fill="#000"/>
<rect x="373.06" y="337.99" width="4.60" height="4.60" fill="#000"/>
<rect x="385.14" y="339.12" width="4.60" height="4.60" fill="#000"/>
<rect x="394.20" y="330.82" width="4.60" height="4.60" fill="#000"/>
<path d="M403.00,335.00 L403.00,345.30 M403.00,352.00 L403.00,359.20" stroke="#000" stroke-width="1.2" fill="none"/>
<path d="M400.60,335.50 L403.00,330.90 L405.40,335.50 Z" fill="#000"/>
<path d="M400.60,358.70 L403.00,363.30 L405.40,358.70 Z" fill="#000"/>
<rect x="402.30" y="347.30" width="1.4" height="1.4" fill="#333"/>
<line x1="408.00" y1="316.40" x2="420.30" y2="316.40" stroke="#000" stroke-width="1.6"/>
<rect x="411.95" y="314.20" width="4.40" height="4.40" fill="#000"/>
<text x="421.10" y="318.70" font-size="6.4" text-anchor="start" font-weight="normal" textLength="80.4" lengthAdjust="spacingAndGlyphs">Allo BM --&gt; Thymectomized</text>
<line x1="408.00" y1="327.50" x2="420.30" y2="327.50" stroke="#000" stroke-width="1.6"/>
<path d="M411.40,329.92 L414.15,325.08 L416.90,329.92 Z" fill="#000"/>
<text x="421.10" y="329.80" font-size="6.4" text-anchor="start" font-weight="normal" textLength="81.5" lengthAdjust="spacingAndGlyphs">Syn BM --&gt; Thymectomized</text>
<line x1="408.00" y1="338.60" x2="420.30" y2="338.60" stroke="#000" stroke-width="1.6"/>
<rect x="412.01" y="337.16" width="4.28" height="2.87" fill="#fff" stroke="#000" stroke-width="1.0"/><line x1="411.51" y1="338.60" x2="416.79" y2="338.60" stroke="#000" stroke-width="1"/>
<text x="421.10" y="340.90" font-size="6.4" text-anchor="start" font-weight="normal" textLength="95.4" lengthAdjust="spacingAndGlyphs">IFN&#947;R1-/- BM --&gt; Thymectomized</text>
</svg>
</body></html>
